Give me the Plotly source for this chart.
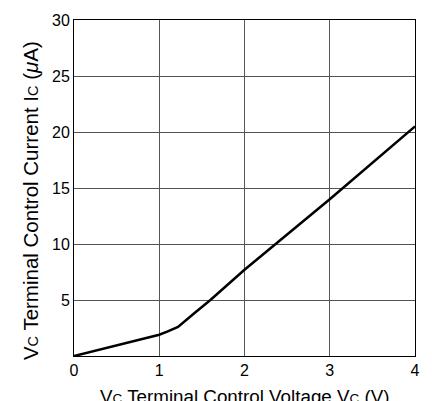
import plotly.graph_objects as go

vc = [0, 1, 1.1, 1.22, 1.4, 1.6, 2, 2.37, 3, 4]
ic = [0, 1.9, 2.2, 2.6, 3.75, 5.0, 7.7, 10, 14, 20.5]
x_ticks = [0, 1, 2, 3, 4]
y_ticks = [5, 10, 15, 20, 25, 30]

FAM = "Liberation Sans, Arial, sans-serif"
SUBX = "<span style='font-size:13.5px'>C</span>"
SUBY = "<span style='font-size:14.5px'>C</span>"

fig = go.Figure()
fig.add_trace(go.Scatter(x=vc, y=ic, mode="lines",
                         line=dict(color="black", width=2.5), showlegend=False))

font = dict(family=FAM, size=16, color="black")
axis_common = dict(showline=True, linecolor="black", linewidth=1, mirror=True,
                   showgrid=True, gridcolor="#555", gridwidth=1, zeroline=False,
                   ticks="", tickfont=font)
fig.update_xaxes(range=[0, 4], tickvals=x_ticks, **axis_common)
fig.update_yaxes(range=[0, 30], tickvals=y_ticks, **axis_common)

fig.update_layout(
    width=432, height=401,
    margin=dict(l=74, r=16, t=15, b=45),
    paper_bgcolor="white", plot_bgcolor="white",
    font=font,
    annotations=[
        dict(text=f"V{SUBX} Terminal Control Voltage V{SUBX} (V)",
             xref="paper", yref="paper", x=0.5, y=-0.083,
             xanchor="center", yanchor="top", showarrow=False,
             font=dict(family=FAM, size=18.8, color="black")),
        dict(text=f"V{SUBY} Terminal Control Current I{SUBY} (<i>μ</i>A)",
             xref="paper", yref="paper", x=-0.128, y=0.462, textangle=-90,
             xanchor="center", yanchor="middle", showarrow=False,
             font=dict(family=FAM, size=20.5, color="black")),
    ],
)
fig.write_html("out.html", config={"displayModeBar": False},
               post_script="document.body.style.margin='0';document.body.style.overflow='hidden';")
